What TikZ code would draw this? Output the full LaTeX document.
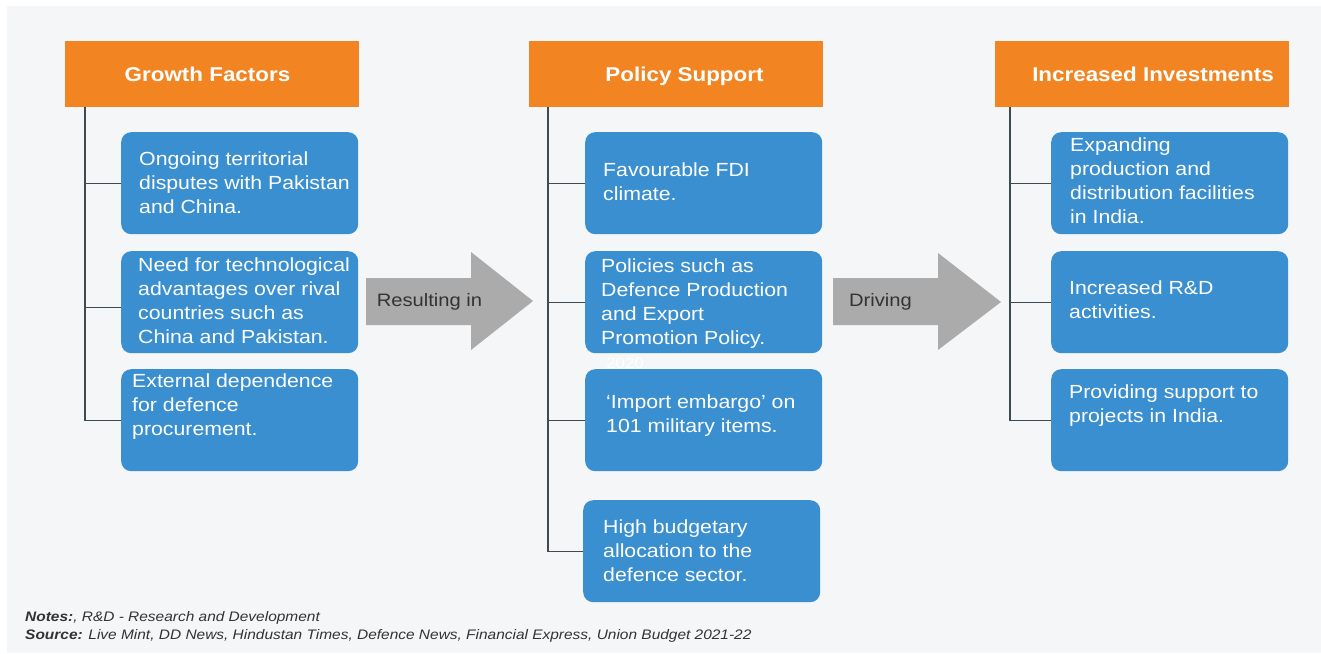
\documentclass[tikz,border=0pt]{standalone}
\usepackage{fontspec}
\setmainfont[FakeStretch=1.12]{Liberation Sans}
\usetikzlibrary{positioning}
\definecolor{hdorange}{HTML}{F28522}
\definecolor{boxblue}{HTML}{3A8FD1}
\definecolor{bggray}{HTML}{F4F6F7}
\definecolor{arrowgray}{HTML}{ABABAB}
\definecolor{treeline}{HTML}{3D4A52}
\definecolor{notegray}{HTML}{333333}
\tikzset{
  head/.style={fill=hdorange, minimum width=294pt, minimum height=66pt, inner sep=0pt, anchor=north west},
  headtext/.style={text=white, inner sep=0pt, text height=14.5pt, text depth=0pt, font=\fontsize{20}{24}\selectfont\bfseries},
  card/.style={fill=boxblue, rounded corners=10pt, minimum width=237pt, minimum height=102pt, inner sep=0pt, anchor=north west},
  cardtext/.style={text=white, align=left, inner sep=0pt, anchor=west, font=\fontsize{19}{24}\selectfont},
  arrowtext/.style={text=notegray, inner sep=0pt, font=\fontsize{18}{22}\selectfont},
  notetext/.style={text=notegray, inner sep=0pt, anchor=west, font=\fontsize{13.8}{16}\selectfont\itshape},
  tree/.style={treeline, line width=1.3pt},
}
\begin{document}
\begin{tikzpicture}[x=1pt, y=-1pt]
\useasboundingbox (0,0) rectangle (1321,653);
\fill[bggray] (7,6) rectangle (1321,653);
% headers
\node[head] (GF) at (65,41) {};
\node[head] (PS) at (529,41) {};
\node[head] (II) at (995,41) {};
\node[headtext] (GFT) at (207.5,74) {Growth Factors};
\node[headtext] (PST) at (684.5,74) {Policy Support};
\node[headtext] (IIT) at (1153,74) {Increased Investments};
% growth factors
\node[card] (G1) at (121,132) {};
\node[card] (G2) at (121,251) {};
\node[card] (G3) at (121,369) {};
\node[cardtext] (G1T) at (139,183) {Ongoing territorial\\disputes with Pakistan\\and China.};
\node[cardtext] (G2T) at (138,301) {Need for technological\\advantages over rival\\countries such as\\China and Pakistan.};
\node[cardtext] (G3T) at (132,407) {External dependence\\for defence\\procurement.};
% policy support
\node[card] (P1) at (585,132) {};
\node[card] (P2) at (585,251) {};
\node[card] (P3) at (585,369) {};
\node[card] (P4) at (583,500) {};
\node[cardtext] (P1T) at (603,182) {Favourable FDI\\climate.};
\node[cardtext] (P2T) at (601,303.5) {Policies such as\\Defence Production\\and Export\\Promotion Policy.};
\node[text=white, inner sep=0pt, font=\fontsize{15}{18}\selectfont] (YR) at (625,363) {2020};
\node[cardtext] (P3T) at (606,415.5) {‘Import embargo’ on\\101 military items.};
\node[cardtext] (P4T) at (603,551) {High budgetary\\allocation to the\\defence sector.};
% increased investments
\node[card] (I1) at (1051,132) {};
\node[card] (I2) at (1051,251) {};
\node[card] (I3) at (1051,369) {};
\node[cardtext] (I1T) at (1070,181) {Expanding\\production and\\distribution facilities\\in India.};
\node[cardtext] (I2T) at (1069,299.5) {Increased R\&D\\activities.};
\node[cardtext] (I3T) at (1069,406) {Providing support to\\projects in India.};
% tree lines
\coordinate (GR) at (85,107); % growth root
\coordinate (PR) at (548,107); % policy root
\coordinate (IR) at (1010,107); % investment root
\draw[tree] (GR) |- (G3.west);
\draw[tree] (GR |- G1.west) -- (G1.west);
\draw[tree] ([yshift=-5pt]GR |- G2.west) -- ([yshift=-5pt]G2.west);
\draw[tree] (PR) |- (P4.west);
\draw[tree] (PR |- P1.west) -- (P1.west);
\draw[tree] (PR |- P2.west) -- (P2.west);
\draw[tree] (PR |- P3.west) -- (P3.west);
\draw[tree] (IR) |- (I3.west);
\draw[tree] (IR |- I1.west) -- (I1.west);
\draw[tree] (IR |- I2.west) -- (I2.west);
% block arrows
\fill[arrowgray] (366,278) -- (471,278) -- (471,252) -- (533,301) -- (471,350) -- (471,325) -- (366,325) -- cycle;
\fill[arrowgray] (833,278) -- (938,278) -- (938,253) -- (1001,302) -- (938,350) -- (938,325) -- (833,325) -- cycle;
\node[arrowtext] (RI) at (429.5,302) {Resulting in};
\node[arrowtext] (DR) at (880.5,302) {Driving};
% notes
\node[notetext] (NT) at (25,618) {\textbf{Notes:}, R\&D - Research and Development};
\node[notetext] (SR) at (25,636) {\textbf{Source:} Live Mint, DD News, Hindustan Times, Defence News, Financial Express, Union Budget 2021-22};
\end{tikzpicture}
\end{document}
